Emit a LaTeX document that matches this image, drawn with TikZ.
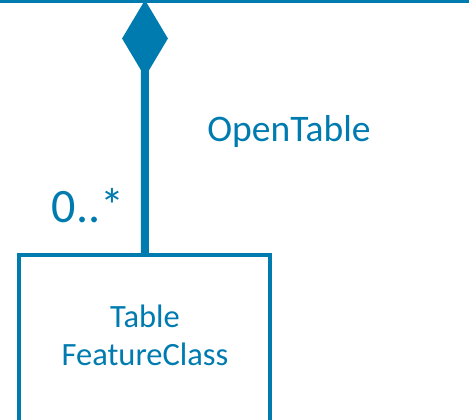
\documentclass[tikz,border=0pt]{standalone}
\usepackage{fontspec}
\setmainfont{Carlito}
\usetikzlibrary{shapes.geometric}
\definecolor{umlblue}{RGB}{0,123,176}
\tikzset{
  classbox/.style={draw=umlblue, line width=4pt, inner sep=0pt, minimum width=251pt, minimum height=200pt},
  compdiamond/.style={diamond, fill=umlblue, draw=none, inner sep=0pt, minimum width=46pt, minimum height=77pt},
  assoc/.style={draw=umlblue, line width=8pt},
  toprule/.style={draw=umlblue, line width=3pt},
  lbl/.style={text=umlblue, inner sep=0pt}
}
\begin{document}
\begin{tikzpicture}[x=1pt,y=-1pt]
\useasboundingbox (0,0) rectangle (469,420);
\coordinate (tl) at (0,1.3);
\coordinate (tr) at (469,1.3);
\draw[toprule] (tl) -- (tr);
\node[compdiamond] (dia) at (145,38.5) {};
\node[classbox, anchor=north] (box) at (144.8,253) {};
\draw[assoc] (dia.center) -- (box.north);
\node[lbl, font=\fontsize{32.5}{38.3}\selectfont, align=center] (boxtext) at (145,335) {Table\\FeatureClass};
\node[lbl, font=\fontsize{37.5}{45}\selectfont, anchor=base] (role) at (289,141.7) {OpenTable};
\node[lbl, font=\fontsize{48}{56}\selectfont, anchor=base] (mult) at (88,222) {0..*};
\end{tikzpicture}
\end{document}
